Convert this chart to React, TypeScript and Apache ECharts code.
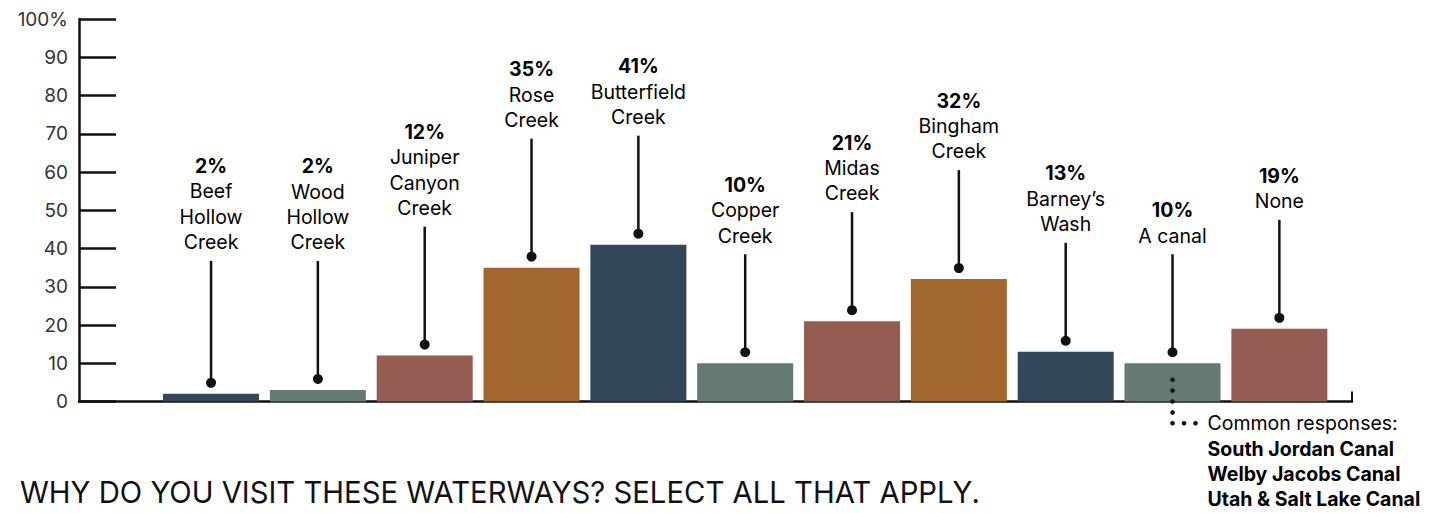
import React, { useEffect, useRef } from "react";
import * as echarts from "echarts";

// ---- data ----
const categoryLabels = [
  "Beef\nHollow\nCreek",
  "Wood\nHollow\nCreek",
  "Juniper\nCanyon\nCreek",
  "Rose\nCreek",
  "Butterfield\nCreek",
  "Copper\nCreek",
  "Midas\nCreek",
  "Bingham\nCreek",
  "Barney’s\nWash",
  "A canal",
  "None",
];
const values = [2, 3, 12, 35, 41, 10, 21, 32, 13, 10, 19];
const pctLabels = ["2%", "2%", "12%", "35%", "41%", "10%", "21%", "32%", "13%", "10%", "19%"];
const yTickValues = [0, 10, 20, 30, 40, 50, 60, 70, 80, 90, 100];
const noteIndex = 9;
const noteTitle = "Common responses:";
const noteItems = ["South Jordan Canal", "Welby Jacobs Canal", "Utah & Salt Lake Canal"];
const chartTitle = "WHY DO YOU VISIT THESE WATERWAYS? SELECT ALL THAT APPLY.";

// ---- styling / layout ----
const NAVY = "#33465a";
const SAGE = "#667a74";
const BRICK = "#945d51";
const OCHRE = "#a2672c";
const barColors = [NAVY, SAGE, BRICK, OCHRE, NAVY, SAGE, BRICK, OCHRE, NAVY, SAGE, BRICK];
const leaderLengths = [122, 118, 118, 118, 98, 98, 98, 98, 98, 98, 98];
const FONT = "Inter, 'Liberation Sans', Arial, sans-serif";
const X_MIN = -1.236;
const X_MAX = 10.68;

function measure(text: string, font: string): number {
  const c = document.createElement("canvas").getContext("2d");
  if (!c) return text.length * 10;
  c.font = font;
  return c.measureText(text).width;
}

export default function App() {
  const ref = useRef<HTMLDivElement>(null);
  useEffect(() => {
    if (!ref.current) return;
    const chart = echarts.init(ref.current, undefined, { renderer: "svg" });
    const titleW = measure(chartTitle, "30px Inter");
    const titleScale = 960 / titleW;

    const rich = {
      p: { fontFamily: FONT, fontSize: 19.5, fontWeight: "bold", lineHeight: 25.4, color: "#1a1a1a" },
      n: { fontFamily: FONT, fontSize: 19.5, lineHeight: 25.4, color: "#2a2a2a" },
    };
    const noteRich = {
      h: { fontFamily: FONT, fontSize: 19.5, lineHeight: 25.3, color: "#222" },
      b: { fontFamily: FONT, fontSize: 19.5, fontWeight: "bold", lineHeight: 25.3, color: "#111" },
    };

    const option: any = {
      animation: false,
      grid: { left: 79, right: 79, top: 19, bottom: 111.5 },
      xAxis: {
        type: "value",
        min: X_MIN,
        max: X_MAX,
        axisLine: { show: true, onZero: false, lineStyle: { color: "#111", width: 2.5 } },
        axisTick: { show: true, inside: true, length: 10, customValues: [X_MAX], lineStyle: { color: "#111", width: 2 } },
        axisLabel: { show: false },
        splitLine: { show: false },
      },
      yAxis: {
        type: "value",
        min: 0,
        max: 100,
        interval: 10,
        axisLine: { show: true, onZero: false, lineStyle: { color: "#111", width: 2.5 } },
        axisTick: { show: true, inside: true, length: 37, lineStyle: { color: "#111", width: 2.5 } },
        axisLabel: {
          margin: 11,
          fontFamily: FONT,
          fontSize: 19,
          color: "#333",
          customValues: yTickValues,
          formatter: (v: number) => (v === 100 ? "100%" : String(v)),
        },
        splitLine: { show: false },
      },
      series: [
        {
          type: "bar",
          z: 2,
          barWidth: 96,
          data: values.map((v, i) => ({ value: [i, v], itemStyle: { color: barColors[i] } })),
        },
        {
          type: "custom",
          z: 5,
          coordinateSystem: "cartesian2d",
          encode: { x: 0, y: 1 },
          data: values.map((v, i) => [i, v]),
          renderItem: (params: any, api: any) => {
            const i = api.value(0);
            const v = api.value(1);
            const [cx, top] = api.coord([i, v]);
            const base = api.coord([i, 0])[1];
            const dotY = top - 11;
            const lineTop = dotY - leaderLengths[i];
            const nameLines = categoryLabels[i].split("\n").map((s) => `{n|${s}}`).join("\n");
            const children: any[] = [
              { type: "line", shape: { x1: cx, y1: dotY, x2: cx, y2: lineTop }, style: { stroke: "#111", lineWidth: 2.5 } },
              { type: "circle", shape: { cx, cy: dotY, r: 5 }, style: { fill: "#111" } },
              {
                type: "text",
                style: {
                  x: cx,
                  y: lineTop - 6,
                  text: `{p|${pctLabels[i]}}\n${nameLines}`,
                  rich,
                  align: "center",
                  verticalAlign: "bottom",
                },
              },
            ];
            if (i === noteIndex) {
              const step = 10.9;
              for (let k = -2; k <= 2; k++) {
                children.push({ type: "circle", z2: 10, shape: { cx, cy: base + k * step, r: 2.3 }, style: { fill: "#111" } });
              }
              const hy = base + 2 * step;
              children.push({ type: "circle", shape: { cx: cx + 11.5, cy: hy, r: 2.3 }, style: { fill: "#111" } });
              children.push({ type: "circle", shape: { cx: cx + 23, cy: hy, r: 2.3 }, style: { fill: "#111" } });
              children.push({
                type: "text",
                style: {
                  x: cx + 35,
                  y: hy - 12.6,
                  text: [`{h|${noteTitle}}`, ...noteItems.map((s) => `{b|${s}}`)].join("\n"),
                  rich: noteRich,
                  align: "left",
                  verticalAlign: "top",
                },
              });
            }
            return { type: "group", children };
          },
        },
      ],
      graphic: [
        {
          type: "text",
          x: 20,
          y: 492,
          scaleX: titleScale,
          style: {
            text: chartTitle,
            font: "30px Inter",
            fill: "#111",
            align: "left",
            verticalAlign: "middle",
          },
        },
      ],
    };
    chart.setOption(option);
    return () => chart.dispose();
  }, []);
  return <div ref={ref} style={{ position: "fixed", left: 0, top: 0, width: 1431, height: 513, background: "#fff" }} />;
}
